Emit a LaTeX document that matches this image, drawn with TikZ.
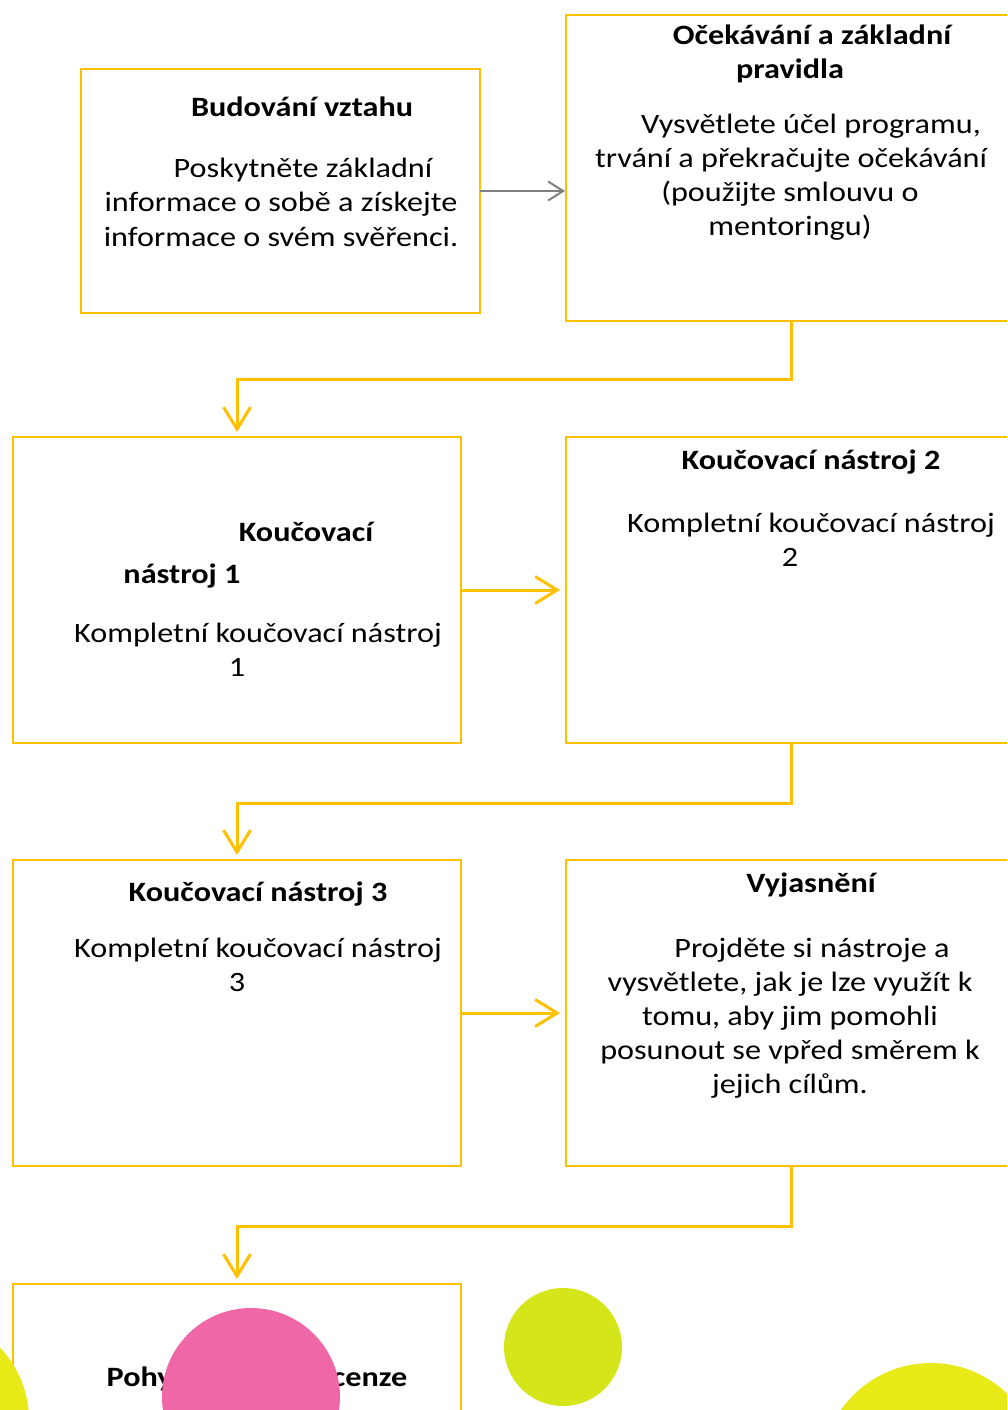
\documentclass[tikz,border=0pt]{standalone}
\usepackage{fontspec}
\setmainfont[FakeStretch=1.15]{Carlito}
\usetikzlibrary{arrows.meta}
\definecolor{boxgold}{HTML}{FFC000}
\definecolor{arrowgray}{HTML}{7F7F7F}
\definecolor{dotpink}{HTML}{EF67A7}
\definecolor{dotlime}{HTML}{D4E61A}
\definecolor{dotyellow}{HTML}{E8EA17}
\begin{document}
\begin{tikzpicture}[x=1pt,y=-1pt,
  stagebox/.style={draw=boxgold,line width=2.5pt,fill=white,inner sep=0pt,outer sep=0pt,anchor=north west},
  txt/.style={anchor=base,inner sep=0pt,font=\fontsize{28}{34}\selectfont},
  ttl/.style={txt,font=\fontsize{28}{34}\selectfont\bfseries},
  flow/.style={draw=boxgold,line width=3pt,
    -{Straight Barb[length=22pt,width=27pt,line width=3pt]}},
  thin/.style={draw=arrowgray,line width=2pt,
    -{Straight Barb[length=15pt,width=19pt,line width=2pt]}}]
\useasboundingbox (0,0) rectangle (1007,1410);
\clip (0,0) rectangle (1007,1410);

% stage boxes
\node[stagebox,minimum width=399pt,minimum height=244pt] (a) at (81,69) {};
\node[stagebox,minimum width=450pt,minimum height=306pt] (b) at (566,15) {};
\node[stagebox,minimum width=448pt,minimum height=306pt] (c) at (13,437) {};
\node[stagebox,minimum width=450pt,minimum height=306pt] (d) at (566,437) {};
\node[stagebox,minimum width=448pt,minimum height=306pt] (e) at (13,860) {};
\node[stagebox,minimum width=450pt,minimum height=306pt] (f) at (566,860) {};
\node[stagebox,minimum width=448pt,minimum height=160pt] (g) at (13,1284) {};

% arrow ends stop just short of the target box
\coordinate (ab) at ([xshift=-1pt]a.east -| b.west);
\coordinate (cin) at ([yshift=5pt]c.north);
\coordinate (din) at ([xshift=-6pt]d.west);
\coordinate (ein) at ([yshift=5pt]e.north);
\coordinate (fin) at ([xshift=-6pt]f.west);
\coordinate (gin) at ([yshift=5pt]g.north);

% connectors
\draw[thin] (a.east) -- (ab);
\draw[flow] (b.south) -- ++(0,58) -| (cin);
\draw[flow] (c.east) -- (din);
\draw[flow] (d.south) -- ++(0,60) -| (ein);
\draw[flow] (e.east) -- (fin);
\draw[flow] (f.south) -- ++(0,60) -| (gin);

% texts: Budování vztahu
\node[ttl] (a1) at (302,117) {Budování vztahu};
\node[txt] (a2) at (303,177) {Poskytněte základní};
\node[txt] (a3) at (281,211) {informace o sobě a získejte};
\node[txt] (a4) at (281,246) {informace o svém svěřenci.};

% Očekávání a základní pravidla
\node[ttl] (b1) at (812,45) {Očekávání a základní};
\node[ttl] (b2) at (790,79) {pravidla};
\node[txt] (b3) at (811,133) {Vysvětlete účel programu,};
\node[txt] (b4) at (791,167) {trvání a překračujte očekávání};
\node[txt] (b5) at (790,201) {(použijte smlouvu o};
\node[txt] (b6) at (790,235) {mentoringu)};

% Koučovací nástroj 1
\node[ttl] (c1) at (306,541) {Koučovací};
\node[ttl] (c2) at (182,583) {nástroj 1};
\node[txt] (c3) at (258,642) {Kompletní koučovací nástroj};
\node[txt] (c4) at (237,676) {1};

% Koučovací nástroj 2
\node[ttl] (d1) at (811,469) {Koučovací nástroj 2};
\node[txt] (d2) at (811,532) {Kompletní koučovací nástroj};
\node[txt] (d3) at (790,566) {2};

% Koučovací nástroj 3
\node[ttl] (e1) at (258,901) {Koučovací nástroj 3};
\node[txt] (e2) at (258,957) {Kompletní koučovací nástroj};
\node[txt] (e3) at (237,991) {3};

% Vyjasnění
\node[ttl] (f1) at (811,892) {Vyjasnění};
\node[txt] (f2) at (812,957) {Projděte si nástroje a};
\node[txt] (f3) at (790,991) {vysvětlete, jak je lze využít k};
\node[txt] (f4) at (790,1025) {tomu, aby jim pomohli};
\node[txt] (f5) at (790,1059) {posunout se vpřed směrem k};
\node[txt] (f6) at (790,1093) {jejich cílům.};

% last stage, partly hidden
\node[ttl] (g1) at (257,1386) {Pohyb vpřed a recenze};

% decorative dots
\fill[dotyellow] (-76,1420) circle (105);
\fill[dotpink] (251,1397) circle (89);
\fill[dotlime] (563,1347) circle (59);
\fill[dotyellow] (931,1473) circle (110);
\end{tikzpicture}
\end{document}
